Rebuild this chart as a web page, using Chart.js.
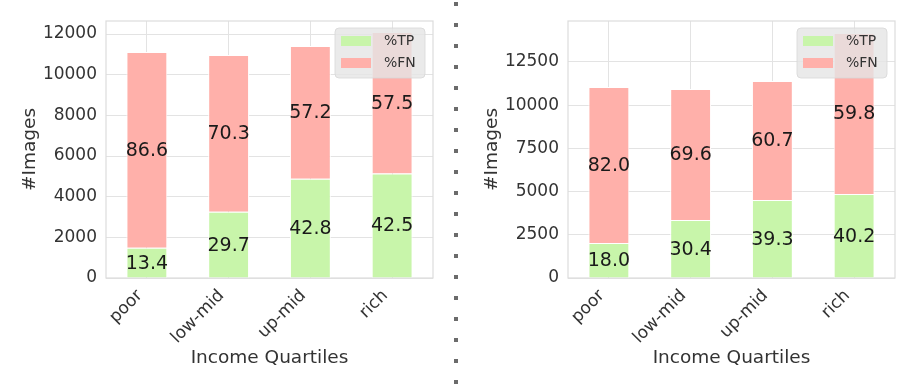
<!DOCTYPE html>
<html>
<head>
<meta charset="utf-8">
<script src="https://cdn.jsdelivr.net/npm/chart.js@4.4.1/dist/chart.umd.min.js"></script>
<style>
  html, body { margin: 0; padding: 0; background: #fff; }
  body { width: 897px; height: 391px; position: relative; overflow: hidden; }
  .box { position: absolute; top: 0; height: 391px; }
  #leftBox { left: 0; width: 440px; }
  #rightBox { left: 460px; width: 437px; }
  #sep {
    position: absolute; left: 454px; top: 2px; width: 4px; height: 386px;
    background: repeating-linear-gradient(to bottom, #6b6b6b 0 4px, transparent 4px 21px);
  }
</style>
</head>
<body>
<div id="leftBox" class="box"><canvas id="leftChart"></canvas></div>
<div id="sep"></div>
<div id="rightBox" class="box"><canvas id="rightChart"></canvas></div>
<script>
// カテゴリ
const quartiles = ["poor", "low-mid", "up-mid", "rich"];

// 左のグラフ（画像数）
const leftTP = [1490, 3260, 4880, 5140];
const leftFN = [9620, 7710, 6530, 6960];
const leftTPLabels = ["13.4", "29.7", "42.8", "42.5"];
const leftFNLabels = ["86.6", "70.3", "57.2", "57.5"];
const leftYTicks = [0, 2000, 4000, 6000, 8000, 10000, 12000];

// 右のグラフ
const rightTP = [2025, 3356, 4514, 4860];
const rightFN = [9030, 7580, 6890, 9320];
const rightTPLabels = ["18.0", "30.4", "39.3", "40.2"];
const rightFNLabels = ["82.0", "69.6", "60.7", "59.8"];
const rightYTicks = [0, 2500, 5000, 7500, 10000, 12500];

const TP_COLOR = "#c8f5aa";
const FN_COLOR = "#ffb0aa";
const FONT = "'DejaVu Sans', sans-serif";

// 枠線 + x ラベル + バー上の数値 + 凡例
const decoPlugin = {
  id: "deco",
  beforeDatasetsDraw(chart) {
    const { ctx, chartArea: a } = chart;
    ctx.save();
    ctx.strokeStyle = "#dcdcdc";
    ctx.lineWidth = 1.2;
    ctx.strokeRect(a.left, a.top, a.right - a.left, a.bottom - a.top);
    // 45度回転の x ラベル（matplotlib 風に右上を揃える）
    const xs = chart.scales.x;
    ctx.font = "17px " + FONT;
    ctx.fillStyle = "#333";
    ctx.textAlign = "right";
    ctx.textBaseline = "middle";
    xs.ticks.forEach((t, i) => {
      ctx.save();
      ctx.translate(xs.getPixelForTick(i) - 7, a.bottom + 15);
      ctx.rotate(-Math.PI / 4);
      ctx.fillText(chart.data.labels[i], 0, 0);
      ctx.restore();
    });
    ctx.restore();
  },
  afterDatasetsDraw(chart) {
    const { ctx } = chart;
    ctx.save();
    ctx.font = "19px " + FONT;
    ctx.fillStyle = "#1a1a1a";
    ctx.textAlign = "center";
    ctx.textBaseline = "middle";
    chart.data.datasets.forEach((ds, di) => {
      chart.getDatasetMeta(di).data.forEach((bar, i) => {
        const top = Math.min(bar.y, bar.base), bot = Math.max(bar.y, bar.base);
        ctx.fillText(ds.pctLabels[i], bar.x, (top + bot) / 2 + 1);
      });
    });
    ctx.restore();
  },
  afterDraw(chart) {
    const { ctx, chartArea: a } = chart;
    const w = 90, h = 50;
    const x = a.right - w - 8, y = a.top + 7;
    ctx.save();
    ctx.fillStyle = "rgba(229,229,229,0.8)";
    ctx.strokeStyle = "rgba(215,215,215,0.8)";
    ctx.beginPath();
    ctx.roundRect(x, y, w, h, 4);
    ctx.fill();
    ctx.stroke();
    ctx.font = "14px " + FONT;
    ctx.textBaseline = "middle";
    ctx.textAlign = "left";
    chart.data.datasets.forEach((ds, i) => {
      const cy = y + 13 + i * 22;
      ctx.fillStyle = ds.backgroundColor;
      ctx.fillRect(x + 6, cy - 5, 30, 10);
      ctx.fillStyle = "#333";
      ctx.fillText(ds.label, x + 49, cy);
    });
    ctx.restore();
  }
};

function makeChart(id, tp, fn, tpLabels, fnLabels, yMax, yTicks, opt) {
  return new Chart(document.getElementById(id), {
    type: "bar",
    data: {
      labels: quartiles,
      datasets: [
        { label: "%TP", data: tp, pctLabels: tpLabels, backgroundColor: TP_COLOR, borderColor: "#fff", borderWidth: 1 },
        { label: "%FN", data: fn, pctLabels: fnLabels, backgroundColor: FN_COLOR, borderColor: "#fff", borderWidth: 1 }
      ]
    },
    options: {
      responsive: true,
      maintainAspectRatio: false,
      animation: false,
      layout: { padding: { left: 0, right: opt.padRight, top: 21, bottom: 0 } },
      plugins: { legend: { display: false }, tooltip: { enabled: false } },
      datasets: { bar: { barPercentage: 0.5, categoryPercentage: 1 } },
      scales: {
        x: {
          stacked: true,
          afterFit: s => { s.height = 113; },
          grid: { offset: false, color: "#e3e3e3", drawTicks: false },
          border: { display: false },
          ticks: { display: false },
          title: { display: true, text: "Income Quartiles", color: "#333", font: { family: FONT, size: 18.5 }, padding: { top: 0, bottom: 22 } }
        },
        y: {
          stacked: true,
          min: 0,
          max: yMax,
          afterFit: s => { s.width = opt.yWidth; },
          afterBuildTicks: s => { s.ticks = yTicks.map(v => ({ value: v })); },
          grid: { color: "#e3e3e3", drawTicks: false },
          border: { display: false },
          ticks: { padding: 9, color: "#333", font: { family: FONT, size: 17 }, callback: v => String(v) },
          title: { display: true, text: "#Images", color: "#333", font: { family: FONT, size: 18.5 }, padding: { top: opt.titlePad, bottom: 0 } }
        }
      }
    },
    plugins: [decoPlugin]
  });
}

makeChart("leftChart", leftTP, leftFN, leftTPLabels, leftFNLabels, 12640, leftYTicks, { padRight: 7, yWidth: 106, titlePad: 19 });
makeChart("rightChart", rightTP, rightFN, rightTPLabels, rightFNLabels, 14870, rightYTicks, { padRight: 2, yWidth: 108, titlePad: 21 });
</script>
</body>
</html>
